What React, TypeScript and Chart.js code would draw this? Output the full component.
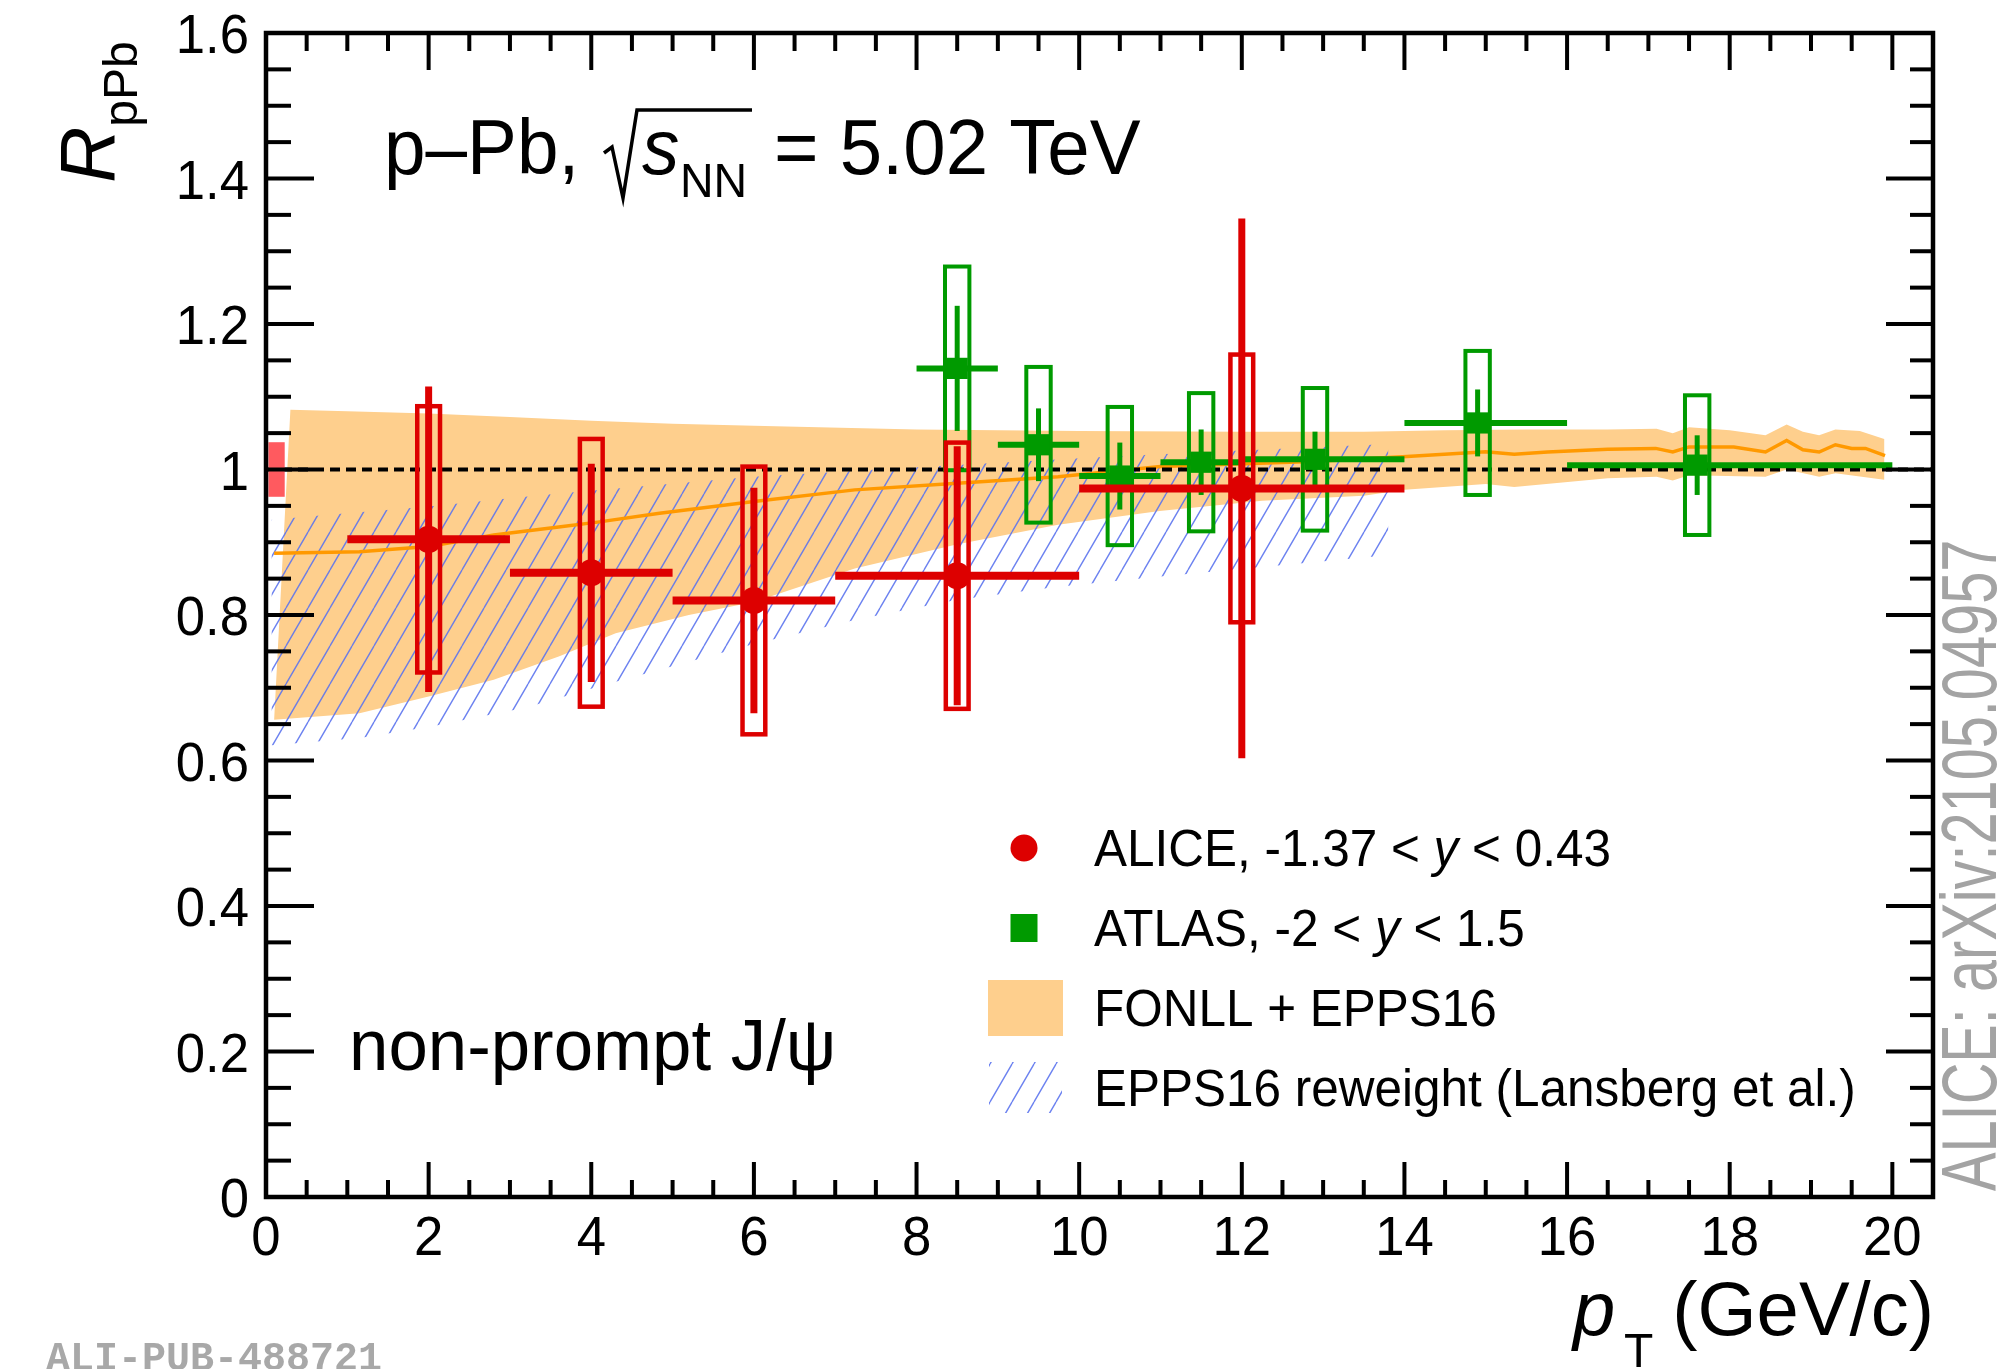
import React, { useEffect, useRef } from 'react';
import { Chart, registerables } from 'chart.js';

Chart.register(...registerables);

const WIDTH = 2013;
const HEIGHT = 1369;

// axis ranges and tick labels
const X_MIN = 0;
const X_MAX = 20.5;
const Y_MIN = 0;
const Y_MAX = 1.6;
const X_MAJOR = 2;
const X_MINOR = 0.5;
const Y_MAJOR = 0.2;
const Y_MINOR = 0.05;
const xTickValues = [0, 2, 4, 6, 8, 10, 12, 14, 16, 18, 20];
const xTickLabels = ['0', '2', '4', '6', '8', '10', '12', '14', '16', '18', '20'];
const yTickValues = [0, 0.2, 0.4, 0.6, 0.8, 1, 1.2, 1.4, 1.6];
const yTickLabels = ['0', '0.2', '0.4', '0.6', '0.8', '1', '1.2', '1.4', '1.6'];

// ALICE, -1.37 < y < 0.43
const aliceX = [2, 4, 6, 8.5, 12];
const aliceXLow = [1, 3, 5, 7, 10];
const aliceXHigh = [3, 5, 7, 10, 14];
const aliceR = [0.904, 0.858, 0.82, 0.854, 0.974];
const aliceStat = [0.21, 0.15, 0.155, 0.178, 0.371];
const aliceSyst = [0.183, 0.184, 0.184, 0.183, 0.184];
const aliceGlobal = 0.0375;

// ATLAS, -2 < y < 1.5
const atlasX = [8.5, 9.5, 10.5, 11.5, 12.9, 14.9, 17.6];
const atlasXLow = [8, 9, 10, 11, 12, 14, 16];
const atlasXHigh = [9, 10, 11, 12, 14, 16, 20];
const atlasR = [1.139, 1.034, 0.991, 1.01, 1.014, 1.064, 1.006];
const atlasStat = [0.086, 0.05, 0.046, 0.045, 0.038, 0.046, 0.041];
const atlasSyst = [0.14, 0.107, 0.095, 0.095, 0.098, 0.099, 0.096];

// FONLL + EPPS16 band
const fonllUpperX = [0.3, 1, 2, 3, 4, 5, 6, 8, 10, 12, 13.5, 14.5, 15.5, 16.5, 17.1, 17.3, 17.5, 18.0, 18.44, 18.7, 18.9, 19.1, 19.3, 19.6, 19.9];
const fonllUpperY = [1.082, 1.08, 1.077, 1.072, 1.067, 1.063, 1.06, 1.055, 1.053, 1.052, 1.052, 1.054, 1.055, 1.055, 1.056, 1.05, 1.058, 1.054, 1.047, 1.062, 1.052, 1.047, 1.055, 1.053, 1.042];
const fonllLowerX = [0.1, 1.15, 2, 2.8, 3.6, 4.3, 5.2, 6, 7.24, 8.49, 9.74, 10.99, 12.25, 13.5, 14, 15, 15.35, 16.5, 17.1, 17.3, 17.5, 18.44, 18.7, 19.1, 19.3, 19.9];
const fonllLowerY = [0.656, 0.665, 0.688, 0.711, 0.743, 0.775, 0.8, 0.818, 0.864, 0.897, 0.924, 0.943, 0.957, 0.964, 0.972, 0.98, 0.976, 0.988, 0.99, 0.985, 0.992, 0.99, 1.0, 0.99, 0.995, 0.986];
const fonllCentralX = [0.1, 1.15, 2, 2.8, 3.6, 4.1, 4.84, 6, 7.24, 8.5, 9.74, 11, 12.87, 14.03, 15.0, 15.35, 15.76, 16.5, 17.09, 17.3, 17.5, 18.05, 18.44, 18.7, 18.9, 19.1, 19.3, 19.5, 19.67, 19.91];
const fonllCentralY = [0.885, 0.887, 0.894, 0.91, 0.921, 0.928, 0.94, 0.956, 0.972, 0.981, 0.99, 1.004, 1.011, 1.018, 1.0245, 1.021, 1.024, 1.028, 1.029, 1.024, 1.031, 1.031, 1.024, 1.04, 1.027, 1.024, 1.034, 1.029, 1.029, 1.019];

// EPPS16 reweight (Lansberg et al.) band
const reweightUpperX = [0.07, 0.7, 2, 3.4, 4.84, 6, 8, 10.4, 12, 13.8];
const reweightUpperY = [0.931, 0.937, 0.949, 0.965, 0.979, 0.99, 1.003, 1.018, 1.026, 1.035];
const reweightLowerX = [0.07, 1.15, 2, 3.2, 4.2, 6, 7.24, 8.5, 9.74, 11, 12.25, 13.8];
const reweightLowerY = [0.621, 0.631, 0.646, 0.673, 0.705, 0.76, 0.793, 0.821, 0.839, 0.853, 0.866, 0.882];

const ALICE_RED = '#dd0000';
const GLOBAL_RED = '#ff5a5f';
const ATLAS_GREEN = '#009a00';
const FONLL_FILL = '#fecf8d';
const FONLL_LINE = '#ff9900';
const HATCH_BLUE = 'rgba(92,116,238,0.9)';
const FONT_FAMILY = '"Liberation Sans", Arial, Helvetica, sans-serif';

type Pt = { x: number; y: number };

function polygon(ux: number[], uy: number[], lx: number[], ly: number[]): Pt[] {
  const pts: Pt[] = ux.map((x, i) => ({ x, y: uy[i] }));
  for (let i = lx.length - 1; i >= 0; i--) pts.push({ x: lx[i], y: ly[i] });
  pts.push({ x: ux[0], y: uy[0] });
  return pts;
}

function zipPts(xs: number[], ys: number[]): Pt[] {
  return xs.map((x, i) => ({ x, y: ys[i] }));
}

function makeHatch(): CanvasPattern | string {
  const w = 22;
  const h = 38;
  const c = document.createElement('canvas');
  c.width = w;
  c.height = h;
  const g = c.getContext('2d');
  if (!g) return HATCH_BLUE;
  g.strokeStyle = HATCH_BLUE;
  g.lineWidth = 1.4;
  g.beginPath();
  for (const k of [-1, 0, 1]) {
    g.moveTo(k * w, h);
    g.lineTo(k * w + w, 0);
  }
  g.stroke();
  return g.createPattern(c, 'repeat') || HATCH_BLUE;
}

function font(size: number, italic = false, bold = false): string {
  return `${italic ? 'italic ' : ''}${bold ? 'bold ' : ''}${size}px ${FONT_FAMILY}`;
}

type Seg = { t: string; italic?: boolean; size?: number; dy?: number };

function drawRich(ctx: CanvasRenderingContext2D, segs: Seg[], x: number, y: number, size: number, sx = 1): number {
  let cx = x;
  for (const s of segs) {
    ctx.font = font(s.size ?? size, !!s.italic);
    ctx.save();
    ctx.translate(cx, y + (s.dy ?? 0));
    ctx.scale(sx, 1);
    ctx.textAlign = 'left';
    ctx.textBaseline = 'alphabetic';
    ctx.fillText(s.t, 0, 0);
    ctx.restore();
    cx += ctx.measureText(s.t).width * sx;
  }
  return cx;
}

function drawText(ctx: CanvasRenderingContext2D, t: string, x: number, y: number, f: string, align: CanvasTextAlign, sx = 1) {
  ctx.save();
  ctx.font = f;
  ctx.translate(x, y);
  ctx.scale(sx, 1);
  ctx.textAlign = align;
  ctx.textBaseline = 'alphabetic';
  ctx.fillText(t, 0, 0);
  ctx.restore();
}

function seg(ctx: CanvasRenderingContext2D, x1: number, y1: number, x2: number, y2: number) {
  ctx.beginPath();
  ctx.moveTo(x1, y1);
  ctx.lineTo(x2, y2);
  ctx.stroke();
}

// error bars and systematic boxes, drawn just before each data set's markers
const errorPlugin = {
  id: 'errorBoxes',
  beforeDatasetDraw(chart: any, args: any) {
    const ds = chart.data.datasets[args.index];
    const xs = chart.scales.x;
    const ys = chart.scales.y;
    const ctx: CanvasRenderingContext2D = chart.ctx;
    let px: number[], lo: number[], hi: number[], r: number[], st: number[], sy: number[];
    let color: string, boxHalf: number, boxW: number, hW: number, vW: number;
    if (ds.label === 'ALICE') {
      px = aliceX; lo = aliceXLow; hi = aliceXHigh; r = aliceR; st = aliceStat; sy = aliceSyst;
      color = ALICE_RED; boxHalf = 0.14; boxW = 4.5; hW = 8; vW = 7;
      // global normalisation uncertainty at unity
      ctx.save();
      ctx.fillStyle = GLOBAL_RED;
      const gx0 = xs.getPixelForValue(0.03);
      const gx1 = xs.getPixelForValue(0.23);
      const gy0 = ys.getPixelForValue(1 + aliceGlobal);
      const gy1 = ys.getPixelForValue(1 - aliceGlobal);
      ctx.fillRect(gx0, gy0, gx1 - gx0, gy1 - gy0);
      ctx.restore();
    } else if (ds.label === 'ATLAS') {
      px = atlasX; lo = atlasXLow; hi = atlasXHigh; r = atlasR; st = atlasStat; sy = atlasSyst;
      color = ATLAS_GREEN; boxHalf = 0.15; boxW = 4; hW = 6; vW = 5;
    } else {
      return;
    }
    ctx.save();
    ctx.strokeStyle = color;
    ctx.lineCap = 'butt';
    for (let i = 0; i < px.length; i++) {
      const cx = xs.getPixelForValue(px[i]);
      const cy = ys.getPixelForValue(r[i]);
      // systematic box
      ctx.lineWidth = boxW;
      const bx0 = xs.getPixelForValue(px[i] - boxHalf);
      const bx1 = xs.getPixelForValue(px[i] + boxHalf);
      const by0 = ys.getPixelForValue(r[i] + sy[i]);
      const by1 = ys.getPixelForValue(r[i] - sy[i]);
      ctx.strokeRect(bx0, by0, bx1 - bx0, by1 - by0);
      // bin width
      ctx.lineWidth = hW;
      seg(ctx, xs.getPixelForValue(lo[i]), cy, xs.getPixelForValue(hi[i]), cy);
      // statistical error
      ctx.lineWidth = vW;
      seg(ctx, cx, ys.getPixelForValue(r[i] + st[i]), cx, ys.getPixelForValue(r[i] - st[i]));
    }
    ctx.restore();
  },
};

// frame, ticks, labels, titles, legend and annotations
const framePlugin = {
  id: 'frameAndText',
  afterDraw(chart: any) {
    const ctx: CanvasRenderingContext2D = chart.ctx;
    const xs = chart.scales.x;
    const ys = chart.scales.y;
    const { left, right, top, bottom } = chart.chartArea;
    const hatch = chart.$hatch;
    ctx.save();

    // ticks on all four sides
    ctx.strokeStyle = '#000';
    ctx.lineWidth = 4;
    const nx = Math.round((X_MAX - X_MIN) / X_MINOR);
    for (let i = 0; i <= nx; i++) {
      const v = X_MIN + i * X_MINOR;
      const major = Math.abs(v / X_MAJOR - Math.round(v / X_MAJOR)) < 1e-6;
      const p = xs.getPixelForValue(v);
      seg(ctx, p, bottom, p, bottom - (major ? 35 : 17));
      seg(ctx, p, top, p, top + (major ? 37 : 18));
    }
    const ny = Math.round((Y_MAX - Y_MIN) / Y_MINOR);
    for (let i = 0; i <= ny; i++) {
      const v = Y_MIN + i * Y_MINOR;
      const major = Math.abs(v / Y_MAJOR - Math.round(v / Y_MAJOR)) < 1e-6;
      const p = ys.getPixelForValue(v);
      seg(ctx, left, p, left + (major ? 48 : 25), p);
      seg(ctx, right, p, right - (major ? 47 : 23), p);
    }

    // frame
    ctx.lineWidth = 4.5;
    ctx.strokeRect(left, top, right - left, bottom - top);

    // tick labels
    ctx.fillStyle = '#000';
    xTickValues.forEach((v, i) => {
      drawText(ctx, xTickLabels[i], xs.getPixelForValue(v), bottom + 58, font(56), 'center', 0.94);
    });
    yTickValues.forEach((v, i) => {
      drawText(ctx, yTickLabels[i], left - 17, ys.getPixelForValue(v) + 20, font(56), 'right', 0.94);
    });

    // x-axis title
    drawRich(ctx, [{ t: 'p', italic: true }], 1573, 1335, 76);
    drawRich(ctx, [{ t: 'T' }], 1624, 1367, 48);
    drawText(ctx, '(GeV/c)', right + 1, 1335, font(76), 'right');

    // y-axis title, rotated
    ctx.save();
    ctx.translate(114, 183);
    ctx.rotate(-Math.PI / 2);
    drawRich(ctx, [{ t: 'R', italic: true }, { t: 'pPb', size: 48, dy: 23 }], 0, 0, 78);
    ctx.restore();

    // collision system
    drawRich(ctx, [{ t: 'p–Pb,' }], 384, 174, 77, 0.97);
    ctx.lineWidth = 3.5;
    ctx.lineJoin = 'miter';
    ctx.beginPath();
    ctx.moveTo(604, 153);
    ctx.lineTo(612, 147);
    ctx.lineTo(623, 198);
    ctx.lineTo(637, 110);
    ctx.lineTo(752, 110);
    ctx.stroke();
    drawRich(ctx, [{ t: 's', italic: true }], 642, 174, 77, 0.97);
    drawRich(ctx, [{ t: 'NN' }], 680, 197, 48, 0.97);
    drawRich(ctx, [{ t: '= 5.02 TeV' }], 774, 174, 77, 0.99);

    // particle label
    drawRich(ctx, [{ t: 'non-prompt J/ψ' }], 349, 1070, 73, 0.97);

    // legend
    const lx = 1024;
    const tx = 1094;
    const rows = [848, 928, 1008, 1088];
    ctx.fillStyle = ALICE_RED;
    ctx.beginPath();
    ctx.arc(lx, rows[0], 13.5, 0, Math.PI * 2);
    ctx.fill();
    ctx.fillStyle = ATLAS_GREEN;
    ctx.fillRect(lx - 13.5, rows[1] - 14, 27, 28);
    ctx.fillStyle = FONLL_FILL;
    ctx.fillRect(988, rows[2] - 28, 75, 56);
    ctx.fillStyle = hatch;
    ctx.fillRect(989, rows[3] - 26, 73, 51);
    ctx.fillStyle = '#000';
    drawRich(ctx, [{ t: 'ALICE, -1.37 < ' }, { t: 'y', italic: true }, { t: ' < 0.43' }], tx, rows[0] + 18, 51, 0.97);
    drawRich(ctx, [{ t: 'ATLAS, -2 < ' }, { t: 'y', italic: true }, { t: ' < 1.5' }], tx, rows[1] + 18, 51, 0.97);
    drawRich(ctx, [{ t: 'FONLL + EPPS16' }], tx, rows[2] + 18, 51, 0.97);
    drawRich(ctx, [{ t: 'EPPS16 reweight (Lansberg et al.)' }], tx, rows[3] + 18, 51, 0.97);

    // side reference
    ctx.save();
    ctx.fillStyle = '#a3a3a3';
    ctx.translate(1996, 1191);
    ctx.rotate(-Math.PI / 2);
    ctx.scale(0.74, 1);
    ctx.font = font(78);
    ctx.textAlign = 'left';
    ctx.textBaseline = 'alphabetic';
    ctx.fillText('ALICE: arXiv:2105.04957', 0, 0);
    ctx.restore();

    // figure id
    ctx.fillStyle = '#a8a8a8';
    ctx.font = 'bold 40px "Liberation Mono", "DejaVu Sans Mono", monospace';
    ctx.textAlign = 'left';
    ctx.textBaseline = 'alphabetic';
    ctx.fillText('ALI-PUB-488721', 46, 1370);

    ctx.restore();
  },
};

export default function App() {
  const canvasRef = useRef<HTMLCanvasElement | null>(null);

  useEffect(() => {
    const canvas = canvasRef.current;
    if (!canvas) return;
    const hatch = makeHatch();

    const chart = new Chart(canvas, {
      type: 'scatter',
      data: {
        datasets: [
          {
            label: 'FONLL + EPPS16',
            data: polygon(fonllUpperX, fonllUpperY, fonllLowerX, fonllLowerY),
            showLine: true,
            fill: 'shape',
            backgroundColor: FONLL_FILL,
            borderColor: 'rgba(0,0,0,0)',
            borderWidth: 1,
            pointRadius: 0,
            order: 6,
          },
          {
            label: 'EPPS16 reweight (Lansberg et al.)',
            data: polygon(reweightUpperX, reweightUpperY, reweightLowerX, reweightLowerY),
            showLine: true,
            fill: 'shape',
            backgroundColor: hatch as any,
            borderColor: 'rgba(0,0,0,0)',
            borderWidth: 1,
            pointRadius: 0,
            order: 5,
          },
          {
            label: 'FONLL central',
            data: zipPts(fonllCentralX, fonllCentralY),
            showLine: true,
            fill: false,
            borderColor: FONLL_LINE,
            borderWidth: 3.5,
            pointRadius: 0,
            order: 4,
          },
          {
            label: 'unity',
            data: [{ x: X_MIN, y: 1 }, { x: X_MAX, y: 1 }],
            showLine: true,
            fill: false,
            borderColor: '#000',
            borderWidth: 4,
            borderDash: [10, 6],
            pointRadius: 0,
            order: 3,
          },
          {
            label: 'ATLAS',
            data: zipPts(atlasX, atlasR),
            showLine: false,
            pointStyle: 'rect',
            pointRadius: 15,
            backgroundColor: ATLAS_GREEN,
            borderColor: ATLAS_GREEN,
            borderWidth: 0,
            order: 2,
          },
          {
            label: 'ALICE',
            data: zipPts(aliceX, aliceR),
            showLine: false,
            pointStyle: 'circle',
            pointRadius: 13.5,
            backgroundColor: ALICE_RED,
            borderColor: ALICE_RED,
            borderWidth: 0,
            order: 1,
          },
        ],
      },
      options: {
        animation: false,
        responsive: false,
        devicePixelRatio: 1,
        events: [],
        layout: { padding: { left: 266, right: WIDTH - 1933, top: 33, bottom: HEIGHT - 1197 } },
        scales: {
          x: { type: 'linear', min: X_MIN, max: X_MAX, display: false },
          y: { type: 'linear', min: Y_MIN, max: Y_MAX, display: false },
        },
        plugins: {
          legend: { display: false },
          tooltip: { enabled: false },
        },
      },
      plugins: [errorPlugin, framePlugin],
    });
    (chart as any).$hatch = hatch;
    chart.draw();

    return () => {
      chart.destroy();
    };
  }, []);

  return (
    <div style={{ position: 'fixed', left: 0, top: 0, width: WIDTH, height: HEIGHT, background: '#fff' }}>
      <canvas ref={canvasRef} width={WIDTH} height={HEIGHT} style={{ width: WIDTH, height: HEIGHT, display: 'block' }} />
    </div>
  );
}
